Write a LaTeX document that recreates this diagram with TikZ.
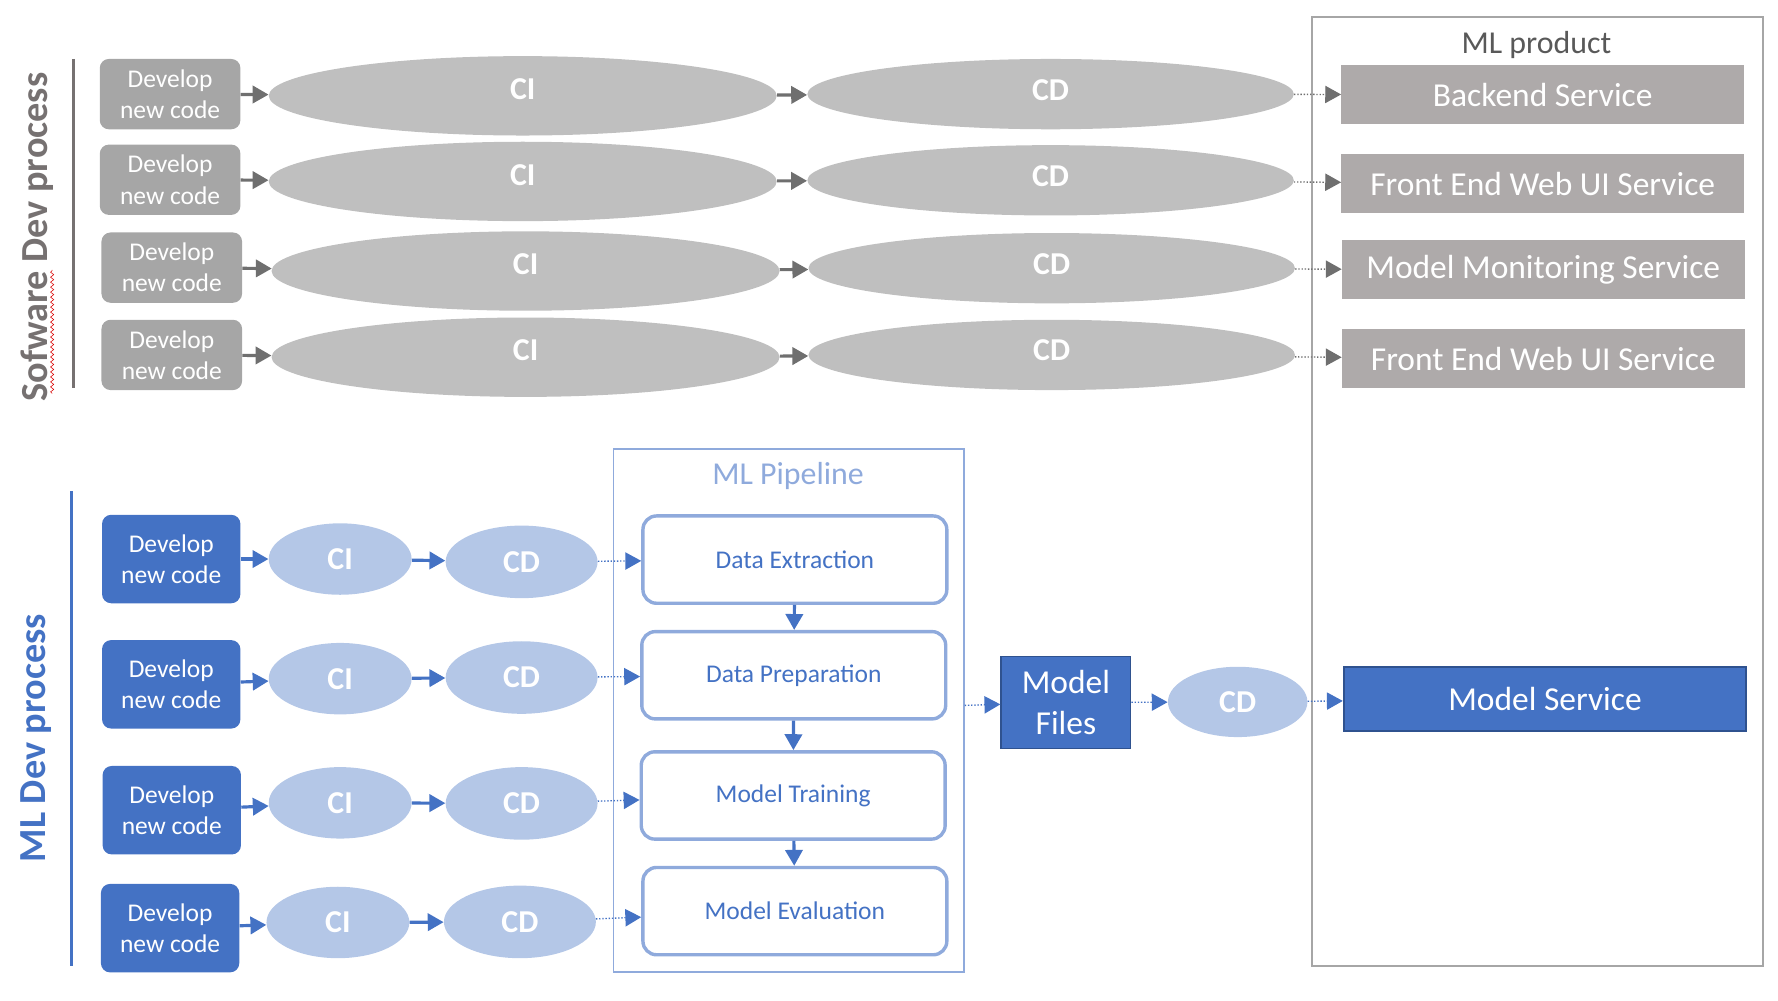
\documentclass[tikz,border=0pt]{standalone}
\usepackage{fontspec}
\setmainfont{Carlito}
\usepackage{tikz}
\usetikzlibrary{shapes.geometric, arrows.meta, decorations.pathmorphing}

\definecolor{dgray}{HTML}{A6A6A6}
\definecolor{egray}{HTML}{BFBFBF}
\definecolor{pgray}{HTML}{AEAAAA}
\definecolor{agray}{HTML}{6F6F6F}
\definecolor{lgray}{HTML}{767171}
\definecolor{tgray}{HTML}{595959}
\definecolor{mblue}{HTML}{4472C4}
\definecolor{lblue}{HTML}{B4C7E7}
\definecolor{pblue}{HTML}{8FAADC}
\definecolor{dblue}{HTML}{2F528F}

\begin{document}
\begin{tikzpicture}[x=0.25mm, y=-0.25mm,
    devgray/.style={rectangle, rounded corners=2mm, fill=dgray, text=white, minimum width=31mm, minimum height=15.5mm, align=center, font=\fontsize{16}{19.5}\selectfont},
    devblue/.style={rectangle, rounded corners=2mm, fill=mblue, text=white, minimum width=30.5mm, minimum height=19.5mm, align=center, font=\fontsize{16}{19.5}\selectfont},
    cigray/.style={ellipse, inner sep=0pt, fill=egray, text=white, text depth=8.5pt, minimum width=112mm, minimum height=17.5mm, font=\bfseries\fontsize{20}{24}\selectfont},
    cdgray/.style={ellipse, inner sep=0pt, fill=egray, text=white, text depth=5.7pt, minimum width=107.25mm, minimum height=15.5mm, font=\bfseries\fontsize{20}{24}\selectfont},
    ciblue/.style={ellipse, inner sep=0pt, fill=lblue, text=white, minimum width=31.5mm, minimum height=15.75mm, font=\bfseries\fontsize{20}{24}\selectfont},
    cdblue/.style={ellipse, inner sep=0pt, fill=lblue, text=white, minimum width=33.5mm, minimum height=16mm, font=\bfseries\fontsize{20}{24}\selectfont},
    service/.style={rectangle, fill=pgray, text=white, minimum width=88.75mm, minimum height=13mm, font=\fontsize{21}{25}\selectfont},
    stagebox/.style={rectangle, rounded corners=3mm, draw=pblue, line width=0.75mm, fill=white, text=mblue, minimum width=67mm, minimum height=19.25mm, font=\fontsize{16}{19.5}\selectfont},
    garrow/.style={agray, line width=0.7mm, -{Triangle[length=3.5mm, width=3.8mm]}},
    gdots/.style={agray, line width=0.3mm, dash pattern=on 0.3mm off 0.4mm, -{Triangle[length=3.5mm, width=3.8mm]}},
    barrow/.style={mblue, line width=0.7mm, -{Triangle[length=3.5mm, width=3.8mm]}},
    bdots/.style={mblue, line width=0.3mm, dash pattern=on 0.3mm off 0.4mm, -{Triangle[length=3.5mm, width=3.8mm]}}]

      \useasboundingbox (0,0) rectangle (1568,882);

      \draw[lgray, line width=0.75mm] (65,52) -- (65,342);
      \node[rotate=90, text=lgray, font=\bfseries\fontsize{24}{28}\selectfont] (swlabel) at (33,209) {Sofware Dev process};
      \draw[red!85!black, line width=0.35pt, decorate, decoration={snake, amplitude=0.35mm, segment length=1.1mm}] (46,347) -- (46,238);

      \node[devgray] (dev1) at (150,83) {Develop\\new code};
      \node[devgray] (dev2) at (150,158.5) {Develop\\new code};
      \node[devgray] (dev3) at (151.5,236) {Develop\\new code};
      \node[devgray] (dev4) at (151.5,313) {Develop\\new code};

      \node[cigray] (ci1) at (461,84.5) {CI};
      \node[cigray] (ci2) at (461,160) {CI};
      \node[cigray] (ci3) at (463.5,239) {CI};
      \node[cigray] (ci4) at (463.5,315) {CI};

      \node[cdgray] (cd1) at (926.5,83) {CD};
      \node[cdgray] (cd2) at (926.5,159) {CD};
      \node[cdgray] (cd3) at (927.5,236.5) {CD};
      \node[cdgray] (cd4) at (927.5,313) {CD};

      \node[draw=dgray, line width=0.4mm, minimum width=99.5mm, minimum height=209.25mm] (prod) at (1356,433.5) {};
      \node[text=tgray, font=\fontsize{20}{24}\selectfont] (prodtitle) at (1355,40) {ML product};
      \node[service] (srv1) at (1360.5,83.5) {Backend Service};
      \node[service] (srv2) at (1360.5,162) {Front End Web UI Service};
      \node[service] (srv3) at (1361,238) {Model Monitoring Service};
      \node[service] (srv4) at (1361,316.5) {Front End Web UI Service};

      \draw[garrow] (dev1) -- (ci1);
      \draw[garrow] (dev2) -- (ci2);
      \draw[garrow] (dev3) -- (ci3);
      \draw[garrow] (dev4) -- (ci4);
      \draw[garrow] (ci1) -- (cd1);
      \draw[garrow] (ci2) -- (cd2);
      \draw[garrow] (ci3) -- (cd3);
      \draw[garrow] (ci4) -- (cd4);
      \draw[gdots] (cd1) -- (srv1);
      \draw[gdots] (cd2) -- (srv2);
      \draw[gdots] (cd3) -- (srv3);
      \draw[gdots] (cd4) -- (srv4);

      \draw[mblue, line width=0.75mm] (63,433) -- (63,852);
      \node[rotate=90, text=mblue, font=\bfseries\fontsize{24}{28}\selectfont] (mllabel) at (32,651) {ML Dev process};

      \node[devblue] (dvb1) at (151,493) {Develop\\new code};
      \node[devblue] (dvb2) at (151,603.5) {Develop\\new code};
      \node[devblue] (dvb3) at (151.5,714.5) {Develop\\new code};
      \node[devblue] (dvb4) at (150,818.5) {Develop\\new code};

      \node[ciblue] (cib1) at (300,493) {CI};
      \node[ciblue] (cib2) at (300,598.5) {CI};
      \node[ciblue] (cib3) at (300,708) {CI};
      \node[ciblue] (cib4) at (298,813.5) {CI};

      \node[cdblue] (cdb1) at (460,495.5) {CD};
      \node[cdblue] (cdb2) at (460,597.5) {CD};
      \node[cdblue] (cdb3) at (460,708.5) {CD};
      \node[cdblue] (cdb4) at (458.5,813) {CD};

      \node[draw=pblue, line width=0.4mm, minimum width=77.25mm, minimum height=115.25mm] (pipe) at (695.5,626.5) {};
      \node[text=pblue, font=\fontsize{20}{24}\selectfont] (pipetitle) at (695,420) {ML Pipeline};
      \node[stagebox] (ext) at (701,493.5) {Data Extraction};
      \node[stagebox] (prep) at (700,595.5) {Data Preparation};
      \node[stagebox] (train) at (699.5,701.5) {Model Training};
      \node[stagebox] (eval) at (701,803.5) {Model Evaluation};

      \node[fill=mblue, draw=dblue, line width=0.4mm, text=white, align=center, minimum width=28.5mm, minimum height=20.25mm, font=\fontsize{21}{25.5}\selectfont] (files) at (940,619.5) {Model\\Files};
      \node[cdblue, minimum width=30.75mm, minimum height=15.5mm] (cd5) at (1091.5,619) {CD};
      \node[fill=mblue, draw=dblue, line width=0.4mm, text=white, minimum width=88.75mm, minimum height=14.25mm, font=\fontsize{21}{25}\selectfont] (msrv) at (1362.5,616.5) {Model Service};

      \draw[barrow] (dvb1) -- (cib1);
      \draw[barrow] (dvb2) -- (cib2);
      \draw[barrow] (dvb3) -- (cib3);
      \draw[barrow] (dvb4) -- (cib4);
      \draw[barrow] (cib1) -- (cdb1);
      \draw[barrow] (cib2) -- (cdb2);
      \draw[barrow] (cib3) -- (cdb3);
      \draw[barrow] (cib4) -- (cdb4);
      \draw[bdots] (cdb1) -- (ext);
      \draw[bdots] (cdb2) -- (prep);
      \draw[bdots] (cdb3) -- (train);
      \draw[bdots] (cdb4) -- (eval);

      \draw[barrow] (ext) -- (prep);
      \draw[barrow] (prep) -- (train);
      \draw[barrow] (train) -- (eval);

      \draw[bdots] (pipe) -- (files);
      \draw[bdots] (files) -- (cd5);
      \draw[bdots] (cd5) -- (msrv);
    \end{tikzpicture}
\end{document}
